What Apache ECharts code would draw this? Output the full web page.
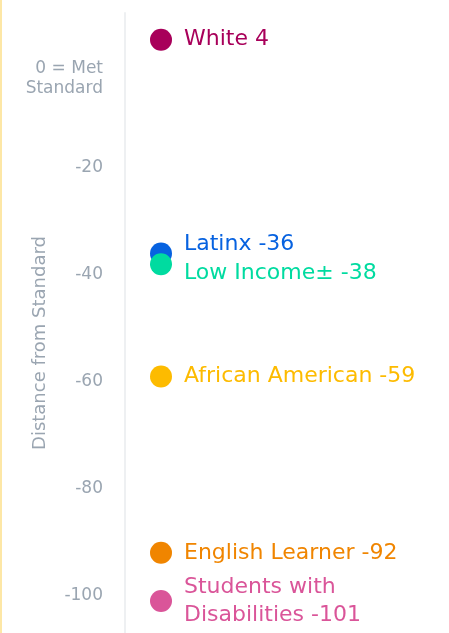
<!DOCTYPE html>
<html>
<head>
<meta charset="utf-8">
<script src="https://cdn.jsdelivr.net/npm/echarts@6/dist/echarts.min.js"></script>
<style>
  html, body { margin: 0; padding: 0; background: #fff; }
  #chart { width: 449px; height: 633px; }
</style>
</head>
<body>
<div id="chart"></div>
<script>
var groups = ['White', 'Latinx', 'Low Income\u00b1', 'African American', 'English Learner', 'Students with\nDisabilities'];
var scores = [4, -36, -38, -59, -92, -101];
var colors = ['#a8005a', '#0762e0', '#00dba0', '#fdbb00', '#f08500', '#da5599'];
var tickValues = [0, -20, -40, -60, -80, -100];
// nudges to keep the two close labels apart
var labelNudge = [0, -9, 9, 0, 0, 0];

var font = '"DejaVu Sans", sans-serif';
var grey = '#9aa5b1';

var points = scores.map(function (v, i) {
  return {
    value: [1, v],
    name: groups[i],
    itemStyle: { color: colors[i], opacity: 1 },
    label: { color: colors[i], offset: [0, labelNudge[i]] }
  };
});

var option = {
  animation: false,
  grid: { left: 125, right: 0, top: 13, bottom: 0, outerBoundsMode: 'none' },
  graphic: [
    { type: 'rect', shape: { x: 0, y: 0, width: 2, height: 633 }, style: { fill: '#fde7a6' } }
  ],
  xAxis: {
    type: 'value', min: 0, max: 9, show: false
  },
  yAxis: {
    type: 'value',
    min: -107,
    max: 9,
    name: 'Distance from Standard',
    nameLocation: 'middle',
    nameGap: 76,
    nameMoveOverlap: false,
    nameTextStyle: { color: grey, fontSize: 18, fontFamily: font, padding: [0, 40, 0, 0] },
    axisLine: { show: true, lineStyle: { color: '#eef0f2', width: 2 } },
    axisTick: { show: false },
    splitLine: { show: false },
    axisLabel: {
      customValues: tickValues,
      margin: 22,
      color: grey,
      fontSize: 17,
      fontFamily: font,
      formatter: function (v) {
        if (v === 0) return '{s| }\n{a|0 = Met}\n{a|Standard}';
        return '{a|' + v + '}';
      },
      rich: {
        s: { lineHeight: 34, fontSize: 17 },
        a: { lineHeight: 20, fontSize: 17, color: grey, fontFamily: font, align: 'right' }
      }
    }
  },
  series: [{
    type: 'scatter',
    symbolSize: 22,
    data: points,
    label: {
      show: true,
      position: 'right',
      distance: 12,
      fontSize: 22,
      lineHeight: 28,
      fontFamily: font,
      formatter: function (p) { return p.name + ' ' + p.value[1]; }
    }
  }]
};

var chartDom = document.getElementById('chart');
var myChart = echarts.init(chartDom);
option && myChart.setOption(option);
</script>
</body>
</html>
